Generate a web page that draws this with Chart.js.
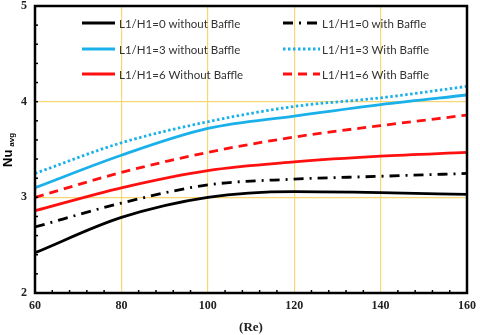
<!DOCTYPE html>
<html>
<head>
<meta charset="utf-8">
<script src="https://cdn.jsdelivr.net/npm/chart.js@4.4.0/dist/chart.umd.min.js"></script>
<style>
  html, body { margin: 0; padding: 0; background: #fff; }
  #wrap { width: 480px; height: 335px; }
</style>
</head>
<body>
<div id="wrap"><canvas id="chart" width="480" height="335"></canvas></div>
<script>
// Re values where curves were read
const reValues = [60, 80, 100, 120, 140, 160];

const labels = [
    'L1/H1=0 without Baffle',
    'L1/H1=0 with Baffle',
    'L1/H1=3 without Baffle',
    'L1/H1=3 With Baffle',
    'L1/H1=6 Without Baffle',
    'L1/H1=6 With Baffle'
];

const nu0Without = [2.42, 2.79, 3.00, 3.06, 3.05, 3.03];
const nu0With    = [2.69, 2.94, 3.13, 3.19, 3.22, 3.25];
const nu3Without = [3.10, 3.44, 3.72, 3.85, 3.97, 4.07];
const nu3With    = [3.25, 3.57, 3.79, 3.95, 4.04, 4.16];
const nu6Without = [2.86, 3.10, 3.28, 3.37, 3.43, 3.47];
const nu6With    = [3.00, 3.26, 3.47, 3.63, 3.75, 3.86];

const xTicks = [60, 80, 100, 120, 140, 160];
const yTicks = [2, 3, 4, 5];

const GRID = '#f7d774';

function pts(arr) {
    return arr.map((v, i) => ({ x: reValues[i], y: v }));
}

function ds(label, data, color, dash, width) {
    return {
        label: label,
        data: pts(data),
        borderColor: color,
        backgroundColor: color,
        borderWidth: width || 2.8,
        borderDash: dash || [],
        borderCapStyle: 'butt',
        pointRadius: 0,
        cubicInterpolationMode: 'monotone',
        fill: false
    };
}

// legend drawn inside the plot, two columns
const legendPlugin = {
    id: 'innerLegend',
    afterDatasetsDraw(chart) {
        const ctx = chart.ctx;
        const cols = [{ x0: 82, x1: 115, tx: 119 }, { x0: 283, x1: 320, tx: 322 }];
        const rows = [23, 49, 74];
        chart.data.datasets.forEach((d, i) => {
            const c = cols[i % 2];
            const y = rows[Math.floor(i / 2)];
            ctx.save();
            ctx.strokeStyle = d.borderColor;
            ctx.lineWidth = d.borderWidth;
            ctx.setLineDash(d.borderDash);
            ctx.beginPath();
            ctx.moveTo(c.x0, y);
            ctx.lineTo(c.x1, y);
            ctx.stroke();
            ctx.setLineDash([]);
            ctx.fillStyle = '#333';
            ctx.font = '11.5px Lato, sans-serif';
            ctx.textBaseline = 'middle';
            ctx.fillText(d.label, c.tx, y + 1);
            ctx.restore();
        });
    }
};

// frame, minor ticks, y title
const framePlugin = {
    id: 'frame',
    afterDraw(chart) {
        const ctx = chart.ctx;
        const a = chart.chartArea;
        const xs = chart.scales.x;
        const ys = chart.scales.y;
        ctx.save();
        ctx.strokeStyle = '#000';
        ctx.lineWidth = 1.5;
        for (let v = 64; v < 160; v += 4) {
            if (v % 20 === 0) continue;
            const px = xs.getPixelForValue(v);
            ctx.beginPath();
            ctx.moveTo(px, a.bottom);
            ctx.lineTo(px, a.bottom - 3);
            ctx.stroke();
        }
        for (let v = 2.2; v < 5; v += 0.2) {
            const py = ys.getPixelForValue(v);
            ctx.beginPath();
            ctx.moveTo(a.left, py);
            ctx.lineTo(a.left + 3, py);
            ctx.stroke();
        }
        ctx.lineWidth = 2.5;
        ctx.strokeRect(a.left, a.top, a.right - a.left, a.bottom - a.top);

        ctx.translate(8, 150);
        ctx.rotate(-Math.PI / 2);
        ctx.fillStyle = '#000';
        ctx.textBaseline = 'middle';
        ctx.font = 'bold 13px "Liberation Sans", Arial, sans-serif';
        const w = ctx.measureText('Nu').width;
        ctx.fillText('Nu', -17, 0);
        ctx.font = 'bold 8px "Liberation Sans", Arial, sans-serif';
        ctx.fillText('avg', -17 + w + 3, 4);
        ctx.restore();
    }
};

new Chart(document.getElementById('chart'), {
    type: 'line',
    data: {
        datasets: [
            ds(labels[0], nu0Without, '#000000', []),
            ds(labels[1], nu0With, '#000000', [10, 6, 2, 6]),
            ds(labels[2], nu3Without, '#1ab0ea', []),
            ds(labels[3], nu3With, '#1ab0ea', [2.5, 2.5]),
            ds(labels[4], nu6Without, '#ff1010', []),
            ds(labels[5], nu6With, '#ff1010', [9, 6])
        ]
    },
    options: {
        responsive: false,
        animation: false,
        layout: { padding: { left: 0, right: 13, top: 6, bottom: 0 } },
        plugins: { legend: { display: false }, tooltip: { enabled: false } },
        scales: {
            x: {
                type: 'linear',
                min: 60,
                max: 160,
                afterBuildTicks: s => { s.ticks = xTicks.map(v => ({ value: v })); },
                afterFit: s => { s.height = 42; s.paddingLeft = 0; s.paddingRight = 0; },
                grid: {
                    color: c => (c.tick.value > 60 && c.tick.value < 160) ? GRID : 'rgba(0,0,0,0)',
                    lineWidth: 1.2,
                    drawTicks: false
                },
                border: { display: false },
                ticks: {
                    padding: 6,
                    color: '#222',
                    font: { family: '"Liberation Serif", serif', weight: 'bold', size: 12 }
                },
                title: {
                    display: true,
                    text: '(Re)',
                    color: '#222',
                    padding: { top: 1, bottom: 0 },
                    font: { family: '"Liberation Serif", serif', weight: 'bold', size: 13 }
                }
            },
            y: {
                min: 2,
                max: 5,
                afterBuildTicks: s => { s.ticks = yTicks.map(v => ({ value: v })); },
                afterFit: s => { s.width = 35; s.paddingTop = 0; s.paddingBottom = 0; },
                grid: {
                    color: c => (c.tick.value > 2 && c.tick.value < 5) ? GRID : 'rgba(0,0,0,0)',
                    lineWidth: 1.2,
                    drawTicks: false
                },
                border: { display: false },
                ticks: {
                    padding: 8,
                    color: '#222',
                    font: { family: '"Liberation Serif", serif', weight: 'bold', size: 12 }
                }
            }
        }
    },
    plugins: [legendPlugin, framePlugin]
});
</script>
</body>
</html>
